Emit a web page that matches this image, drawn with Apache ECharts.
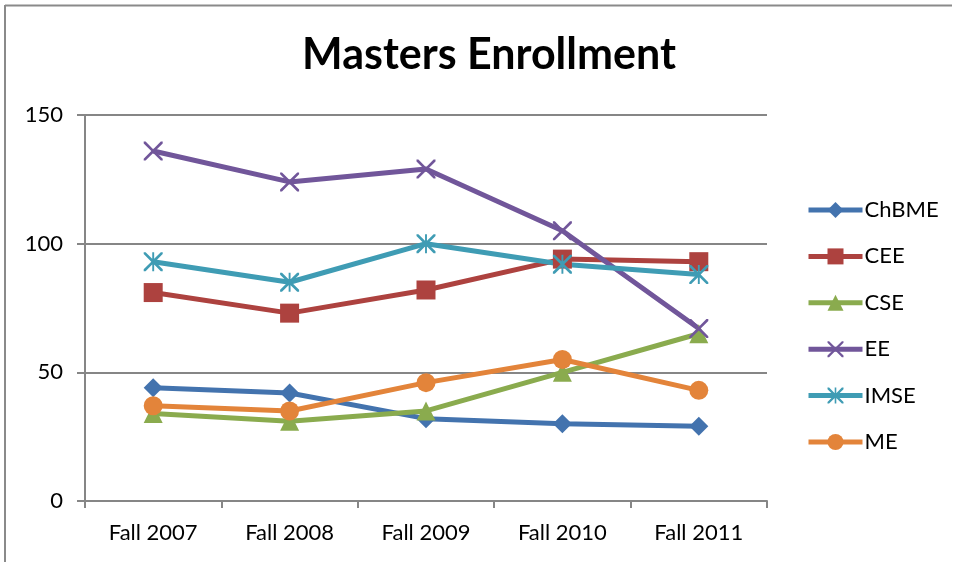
<!DOCTYPE html>
<html>
<head>
<meta charset="utf-8">
<script src="https://cdn.jsdelivr.net/npm/echarts@6/dist/echarts.min.js"></script>
<style>
  html, body { margin: 0; padding: 0; background: #fff; }
  #main { width: 953px; height: 562px; }
</style>
</head>
<body>
<div id="main"></div>
<script>
// 数据
const years = ['Fall 2007', 'Fall 2008', 'Fall 2009', 'Fall 2010', 'Fall 2011']
const chbme = [44, 42, 32, 30, 29]
const cee = [81, 73, 82, 94, 93]
const cse = [34, 31, 35, 50, 65]
const ee = [136, 124, 129, 105, 67]
const imse = [93, 85, 100, 92, 88]
const me = [37, 35, 46, 55, 43]

const xPath = 'path://M0,0L2,0L10,8L18,0L20,0L20,2L12,10L20,18L20,20L18,20L10,12L2,20L0,20L0,18L8,10L0,2Z'
const starPath = 'path://M0,0L2,0L10,8L18,0L20,0L20,2L12,10L20,18L20,20L18,20L10,12L2,20L0,20L0,18L8,10L0,2ZM9,0L11,0L11,20L9,20Z'

const font = 'Lato, "Open Sans", sans-serif'

function makeSeries(name, data, color, symbol, size) {
  return {
    name: name,
    type: 'line',
    data: data,
    symbol: symbol,
    symbolSize: size,
    lineStyle: { width: 5, color: color },
    itemStyle: { color: color },
    emphasis: { disabled: true },
    animation: false
  }
}

const chart = echarts.init(document.getElementById('main'))
chart.setOption({
  backgroundColor: '#fff',
  title: {
    text: 'Masters Enrollment',
    left: 484,
    top: 29,
    textAlign: 'center',
    textStyle: { fontFamily: font, fontWeight: 'bold', fontSize: 43, color: '#000' }
  },
  legend: {
    orient: 'vertical',
    left: 801,
    top: 194,
    itemWidth: 54,
    itemHeight: 20,
    itemGap: 24.4,
    lineStyle: { width: 5 },
    textStyle: { fontFamily: font, fontSize: 22, color: '#000', padding: [0, 0, 0, -3] },
    data: ['ChBME', 'CEE', 'CSE', 'EE', 'IMSE', 'ME']
  },
  grid: { left: 85, right: 186, top: 115, bottom: 61 },
  xAxis: {
    type: 'category',
    data: years,
    boundaryGap: true,
    axisLine: { lineStyle: { color: '#868686', width: 2 } },
    axisTick: { show: true, length: 7, lineStyle: { color: '#868686', width: 2 } },
    axisLabel: { fontFamily: font, fontSize: 22, color: '#000', margin: 21 }
  },
  yAxis: {
    type: 'value',
    min: 0,
    max: 150,
    interval: 50,
    axisLine: { show: true, lineStyle: { color: '#868686', width: 2 } },
    axisTick: { show: true, length: 8, lineStyle: { color: '#868686', width: 2 } },
    axisLabel: { fontFamily: font, fontSize: 22, color: '#000', margin: 22 },
    splitLine: { lineStyle: { color: '#868686', width: 2 } }
  },
  graphic: [
    { type: 'line', shape: { x1: 5, y1: 5.5, x2: 952, y2: 5.5 }, style: { stroke: '#8a8a8a', lineWidth: 2 } },
    { type: 'line', shape: { x1: 5, y1: 5, x2: 5, y2: 562 }, style: { stroke: '#8a8a8a', lineWidth: 2 } }
  ],
  series: [
    makeSeries('ChBME', chbme, '#4373AE', 'diamond', 19),
    makeSeries('CEE', cee, '#AD423F', 'rect', 19),
    makeSeries('CSE', cse, '#8AAB4E', 'triangle', 19),
    makeSeries('EE', ee, '#71569A', xPath, 19),
    makeSeries('IMSE', imse, '#3F9CB4', starPath, 19),
    makeSeries('ME', me, '#E3843A', 'circle', 19)
  ]
})
</script>
</body>
</html>
